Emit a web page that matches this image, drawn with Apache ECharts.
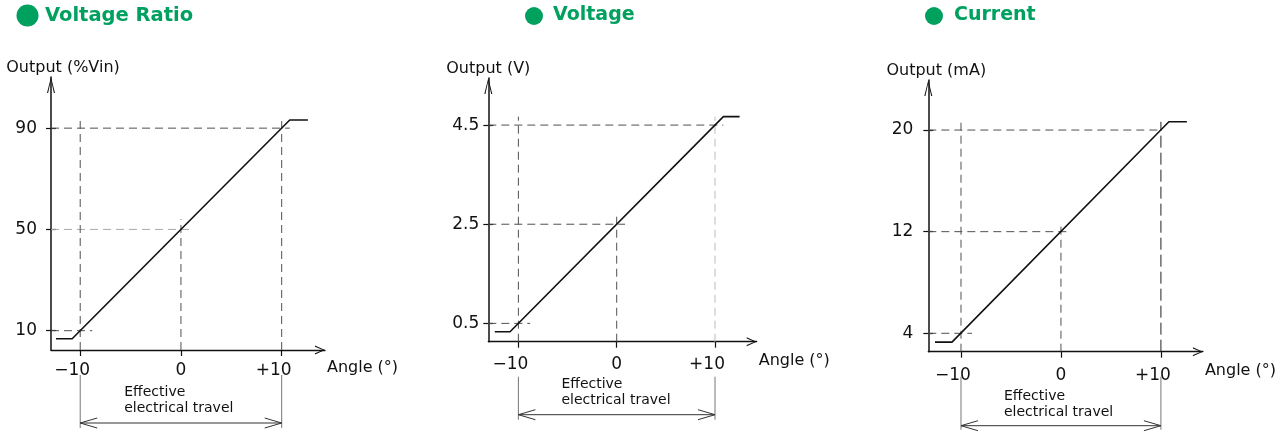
<!DOCTYPE html>
<html><head><meta charset="utf-8">
<script src="https://cdn.jsdelivr.net/npm/echarts@6/dist/echarts.min.js"></script>
<style>html,body{margin:0;padding:0;background:#fff}#c{width:1279px;height:445px}</style>
</head><body><div id="c"></div>
<script>
// ---------- data ----------
const titles = ['Voltage Ratio', 'Voltage', 'Current'];
const yNames = ['Output (%Vin)', 'Output (V)', 'Output (mA)'];
const xName = 'Angle (°)';
const travelLabel = ['Effective', 'electrical travel'];
const xTicks = [-10, 0, 10];
const xTickLabels = ['−10', '0', '+10'];

const ratioTicks = [10, 50, 90];
const ratioAngle = [-12.4, -10.8, 10.8, 12.6];
const ratioOut = [6.8, 6.8, 93.2, 93.2];
const ratioHGuides = [[90, 10.8], [50, 1.06], [10, -8.8]];   // [output level, angle where dash ends]
const ratioVGuides = [[-10, 93.6], [0, 54], [10, 93.2]];     // [angle, output where dash ends]

const voltTicks = [0.5, 2.5, 4.5];
const voltAngle = [-12.4, -10.85, 10.85, 12.5];
const voltOut = [0.33, 0.33, 4.67, 4.67];
const voltHGuides = [[4.5, 10.85], [2.5, 0.85], [0.5, -8.8]];
const voltVGuides = [[-10, 4.67], [0, 2.69], [10, 4.67]];

const currTicks = [4, 12, 20];
const currAngle = [-12.6, -10.9, 10.8, 12.6];
const currOut = [3.3, 3.3, 20.65, 20.65];
const currHGuides = [[20, 10], [12, 0.9], [4, -8.9]];
const currVGuides = [[-10, 20.65], [0, 12.66], [10, 20.65]];

// ---------- layout / style ----------
const FONT = 'DejaVu Sans';
const GREEN = '#00a05f';
const INK = '#111';
const panels = [
  {ticks: ratioTicks, angle: ratioAngle, out: ratioOut, hg: ratioHGuides, vg: ratioVGuides,
   grid: {left: 51, top: 77, width: 274, height: 273}, x: [-12.9, 14.3], y: [2.37, 110.2],
   xMargin: 12, yMargin: 14, namePad: 24, xNameLH: 36, titleLeft: 45, titleSize: 19.5, dot: [27.5, 15.5, 11],
   travel: {vTop: 25, vBot: 78, arrow: 73, t1: 42, t2: 58, tx: 44},
   hStyle: {1: {color: '#aaa'}}, vStyle: {}},
  {ticks: voltTicks, angle: voltAngle, out: voltOut, hg: voltHGuides, vg: voltVGuides,
   grid: {left: 488.3, top: 78, width: 268.4, height: 263.7}, x: [-13.06, 14.24], y: [0.13, 5.45],
   xMargin: 14, yMargin: 9, namePad: 0, xNameLH: 39, titleLeft: 553, titleSize: 19, dot: [534, 16, 9],
   travel: {vTop: 35, vBot: 78, arrow: 73, t1: 43, t2: 59, tx: 43},
   hStyle: {}, vStyle: {2: {color: '#bbb'}}},
  {ticks: currTicks, angle: currAngle, out: currOut, hg: currHGuides, vg: currVGuides,
   grid: {left: 928.3, top: 80, width: 274.7, height: 271.7}, x: [-13.27, 14.2], y: [2.55, 23.94],
   xMargin: 15, yMargin: 15, namePad: 16, xNameLH: 38, titleLeft: 954, titleSize: 19, dot: [934, 16, 9],
   travel: {vTop: 25, vBot: 78, arrow: 74, t1: 45, t2: 61, tx: 43},
   hStyle: {}, vStyle: {2: {color: '#222', type: [12, 5]}}}
];

const CHEV_X = 'path://M45,0 L90,100 L78,100 L45,22 L12,100 L0,100 Z';
const CHEV_Y = 'path://M40,0 L80,160 L69,160 L40,30 L11,160 L0,160 Z';

const grids = [], xAxes = [], yAxes = [], series = [], titleOpts = [], graphics = [];

panels.forEach((p, i) => {
  grids.push(Object.assign({containLabel: false}, p.grid));
  titleOpts.push({text: titles[i], left: p.titleLeft, top: 6, padding: 0,
    textStyle: {color: GREEN, fontFamily: FONT, fontWeight: 'bold', fontSize: p.titleSize}});
  graphics.push({type: 'circle', shape: {cx: p.dot[0], cy: p.dot[1], r: p.dot[2]}, style: {fill: GREEN}});

  xAxes.push({
    gridIndex: i, type: 'value', min: p.x[0], max: p.x[1],
    axisLine: {show: true, onZero: false, lineStyle: {color: INK, width: 1.3},
      symbol: ['none', CHEV_X], symbolSize: [9, 10], symbolOffset: [0, -5]},
    axisTick: {show: true, customValues: xTicks, length: 6, lineStyle: {color: INK, width: 1.2}},
    axisLabel: {show: true, customValues: xTicks, margin: p.xMargin, color: INK, fontFamily: FONT, fontSize: 17,
      formatter: v => { const s = xTickLabels[xTicks.indexOf(v)]; return v === 0 ? s : '{s|' + s + '}'; },
      rich: {s: {padding: [0, 16, 0, 0], color: INK, fontFamily: FONT, fontSize: 17}}},
    splitLine: {show: false},
    name: xName, nameLocation: 'end', nameGap: 2,
    nameTextStyle: {color: INK, fontFamily: FONT, fontSize: 16, align: 'left', verticalAlign: 'top',
      lineHeight: p.xNameLH}
  });

  yAxes.push({
    gridIndex: i, type: 'value', position: 'left', min: p.y[0], max: p.y[1],
    axisLine: {show: true, onZero: false, lineStyle: {color: INK, width: 1.5},
      symbol: ['none', CHEV_Y], symbolSize: [8, 16], symbolOffset: [0, -8]},
    axisTick: {show: true, customValues: p.ticks, length: 5, lineStyle: {color: INK, width: 1.2}},
    axisLabel: {show: true, customValues: p.ticks, margin: p.yMargin, color: INK, fontFamily: FONT, fontSize: 17},
    splitLine: {show: false},
    name: yNames[i], nameLocation: 'end', nameGap: 1,
    nameTextStyle: {color: INK, fontFamily: FONT, fontSize: 16, align: 'center', padding: [0, 0, 0, p.namePad]}
  });

  // dashed guide lines
  p.hg.forEach((g, k) => {
    const st = Object.assign({color: '#505050', type: [8, 5], width: 1}, p.hStyle[k] || {});
    series.push({type: 'line', xAxisIndex: i, yAxisIndex: i, silent: true, symbol: 'none', z: 2, animation: false,
      data: [[p.x[0], g[0]], [g[1], g[0]]], lineStyle: st});
  });
  p.vg.forEach((g, k) => {
    const st = Object.assign({color: '#505050', type: [8, 5], width: 1}, p.vStyle[k] || {});
    series.push({type: 'line', xAxisIndex: i, yAxisIndex: i, silent: true, symbol: 'none', z: 2, animation: false,
      data: [[g[0], p.y[0]], [g[0], g[1]]], lineStyle: st});
  });
  // output characteristic
  series.push({type: 'line', name: titles[i], xAxisIndex: i, yAxisIndex: i, symbol: 'none', z: 5, animation: false,
    data: p.angle.map((a, k) => [a, p.out[k]]), lineStyle: {color: INK, width: 1.6}});
});

// inside half of the crossing y ticks
panels.forEach((p, i) => {
  yAxes.push({
    gridIndex: i, type: 'value', position: 'left', offset: 0, min: p.y[0], max: p.y[1],
    axisLine: {show: false, onZero: false},
    axisTick: {show: true, inside: true, customValues: p.ticks, length: 5, lineStyle: {color: INK, width: 1.2}},
    axisLabel: {show: false}, splitLine: {show: false}
  });
});

const chart = echarts.init(document.getElementById('c'), null, {renderer: 'canvas'});
chart.setOption({
  animation: false, backgroundColor: '#fff',
  title: titleOpts, grid: grids, xAxis: xAxes, yAxis: yAxes, series: series
});

// effective electrical travel annotation, placed through the axis scales
panels.forEach((p, i) => {
  const L = chart.convertToPixel({gridIndex: i}, [xTicks[0], p.y[0]]);
  const R = chart.convertToPixel({gridIndex: i}, [xTicks[2], p.y[0]]);
  const b = L[1], t = p.travel;
  [L[0], R[0]].forEach(x => graphics.push({type: 'line',
    shape: {x1: x, y1: b + t.vTop, x2: x, y2: b + t.vBot}, style: {stroke: '#777', lineWidth: 1}}));
  const ya = b + t.arrow;
  graphics.push({type: 'line', shape: {x1: L[0], y1: ya, x2: R[0], y2: ya}, style: {stroke: '#333', lineWidth: 1}});
  graphics.push({type: 'polyline', shape: {points: [[L[0] + 17, ya - 5], [L[0], ya], [L[0] + 17, ya + 5]]},
    style: {stroke: '#333', lineWidth: 1, fill: null}});
  graphics.push({type: 'polyline', shape: {points: [[R[0] - 17, ya - 5], [R[0], ya], [R[0] - 17, ya + 5]]},
    style: {stroke: '#333', lineWidth: 1, fill: null}});
  graphics.push({type: 'text', x: L[0] + t.tx, y: b + t.t1,
    style: {text: travelLabel[0], fill: INK, font: '14px "' + FONT + '"', verticalAlign: 'middle', align: 'left'}});
  graphics.push({type: 'text', x: L[0] + t.tx, y: b + t.t2,
    style: {text: travelLabel[1], fill: INK, font: '14px "' + FONT + '"', verticalAlign: 'middle', align: 'left'}});
});
chart.setOption({graphic: graphics});
</script></body></html>
